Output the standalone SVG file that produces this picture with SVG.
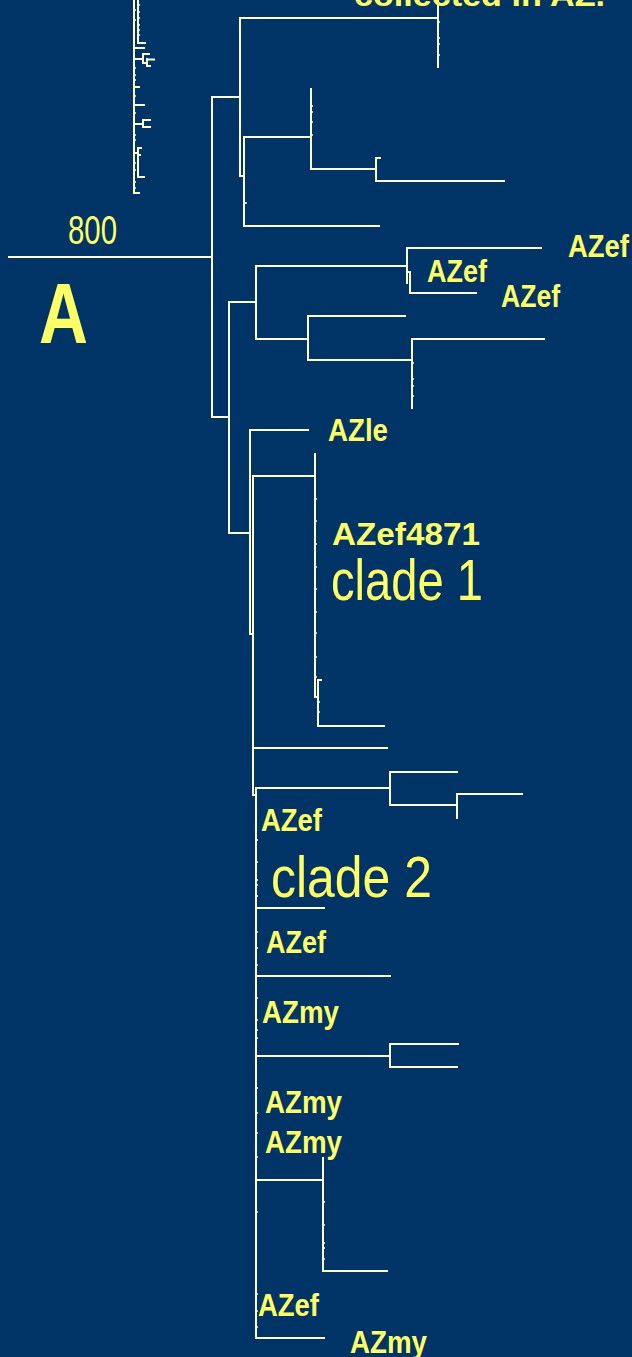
<svg xmlns="http://www.w3.org/2000/svg" width="632" height="1357" viewBox="0 0 632 1357">
<defs>
<style>
.bg{fill:#003366}
.br{fill:none;stroke:#ffffcc;stroke-width:2;stroke-linecap:square}
.tk{fill:none;stroke:#ffffcc;stroke-width:1.5}
.lb{font-family:"Liberation Sans",Arial,sans-serif;font-weight:bold;fill:#ffff66;font-size:31px}
.big{font-family:"Liberation Sans",Arial,sans-serif;fill:#ffff66;font-size:58px}
</style>
</defs>
<rect class="bg" x="0" y="0" width="632" height="1357"/>
<g id="connectors">
<path class="br" d="M134 0V193H139M138 0V43H145M134 48H144M134 59H143M143 54V63M143 54H149M143 63H147M147 59V66M147 59.5H154M147 66H150M134 87H139M134 105H144M134 124H143M143 120V127M143 120H150M143 127H150M134 153H138M138 148V177H144M138 148H141M138 155H140"/>
<path class="tk" d="M134 10h2M134 20h2M134 68h2M134 75h2M134 80h2M134 96h2M134 113h2M134 135h2M134 140h2M134 163h2M134 170h2M134 182h2M134 188h2M138 5h2M138 12h2M138 18h2M138 25h2M138 30h2M138 35h2"/>
<path class="br" d="M9 257H212M212 97V417M212 97H240M240 18V176H244M240 18H438M438 0V67M244 137V226H379M244 137H311M311 89V169H376M376 158V181H504M376 158H380"/>
<path class="br" d="M212 417H229M229 302V533H250M229 302H256M256 266V339H308M256 266H407M407 248V283M407 248H541M407 272H410M410 272V293H476M308 316V360H412M308 316H405M412 339V408M412 339H544"/>
<path class="br" d="M250 430V634H253M250 430H308M253 476V795H256M253 476H315M315 454V697H318M318 680V726H384M318 680H321M254 748H387M256 788V1338H324M256 788H390M390 772V805H457M390 772H457M457 794V818M457 794H522M256 908H324M256 976H390M256 1056H390M390 1044V1067H457M390 1044H458M256 1180H323M323 1158V1271H387"/>
<path class="tk" d="M438 22h2M438 38h2M438 44h2M438 55h2M311 106h2M311 112h2M311 122h2M311 135h2M245 203h2M243 215h2M412 363h2M412 379h2M412 386h2M412 396h2M315 499h2M315 521h2M315 544h2M315 567h2M315 589h2M315 612h2M315 633h2M315 657h2M315 677h2M318 702h2M318 712h2M256 840h2M256 862h2M256 880h2M256 885h2M256 896h2M256 932h2M256 948h2M256 965h2M256 998h2M256 1020h2M256 1030h2M256 1038h2M256 1088h2M256 1113h2M256 1133h2M256 1157h2M256 1212h2M256 1294h2M256 1311h2M256 1327h2M323 1202h2M323 1225h2M323 1243h2M323 1248h2M323 1259h2"/>
</g>
<g id="title"><text class="lb" x="354" y="6" font-size="34" textLength="251" lengthAdjust="spacingAndGlyphs">collected in AZ.</text></g>
<g id="scale"><text x="68" y="244" font-family="Liberation Sans, Arial, sans-serif" font-size="40" fill="#ffff66" textLength="49" lengthAdjust="spacingAndGlyphs">800</text></g>
<g id="panel"><text x="39" y="343" font-family="Liberation Sans, Arial, sans-serif" font-weight="bold" font-size="85" fill="#ffff66" textLength="49" lengthAdjust="spacingAndGlyphs">A</text></g>
<g id="n1"><text class="lb" x="568" y="257" textLength="61" lengthAdjust="spacingAndGlyphs">AZef</text></g>
<g id="n2"><text class="lb" x="427" y="282" textLength="60" lengthAdjust="spacingAndGlyphs">AZef</text></g>
<g id="n3"><text class="lb" x="501" y="307" textLength="59" lengthAdjust="spacingAndGlyphs">AZef</text></g>
<g id="n4"><text class="lb" x="328" y="441" textLength="60" lengthAdjust="spacingAndGlyphs">AZle</text></g>
<g id="n5"><text class="lb" x="332" y="545" font-size="37" textLength="148" lengthAdjust="spacingAndGlyphs">AZef4871</text></g>
<g id="clade1"><text class="big" x="331" y="600" textLength="152" lengthAdjust="spacingAndGlyphs">clade 1</text></g>
<g id="n6"><text class="lb" x="261" y="831" textLength="61" lengthAdjust="spacingAndGlyphs">AZef</text></g>
<g id="clade2"><text class="big" x="271" y="897" textLength="161" lengthAdjust="spacingAndGlyphs">clade 2</text></g>
<g id="n7"><text class="lb" x="266" y="953" textLength="60" lengthAdjust="spacingAndGlyphs">AZef</text></g>
<g id="n8"><text class="lb" x="262" y="1023" textLength="77" lengthAdjust="spacingAndGlyphs">AZmy</text></g>
<g id="n9"><text class="lb" x="265" y="1113" textLength="77" lengthAdjust="spacingAndGlyphs">AZmy</text></g>
<g id="n10"><text class="lb" x="265" y="1153" textLength="77" lengthAdjust="spacingAndGlyphs">AZmy</text></g>
<g id="n11"><text class="lb" x="258" y="1316" textLength="61" lengthAdjust="spacingAndGlyphs">AZef</text></g>
<g id="n12"><text class="lb" x="350" y="1353" textLength="77" lengthAdjust="spacingAndGlyphs">AZmy</text></g>
</svg>
